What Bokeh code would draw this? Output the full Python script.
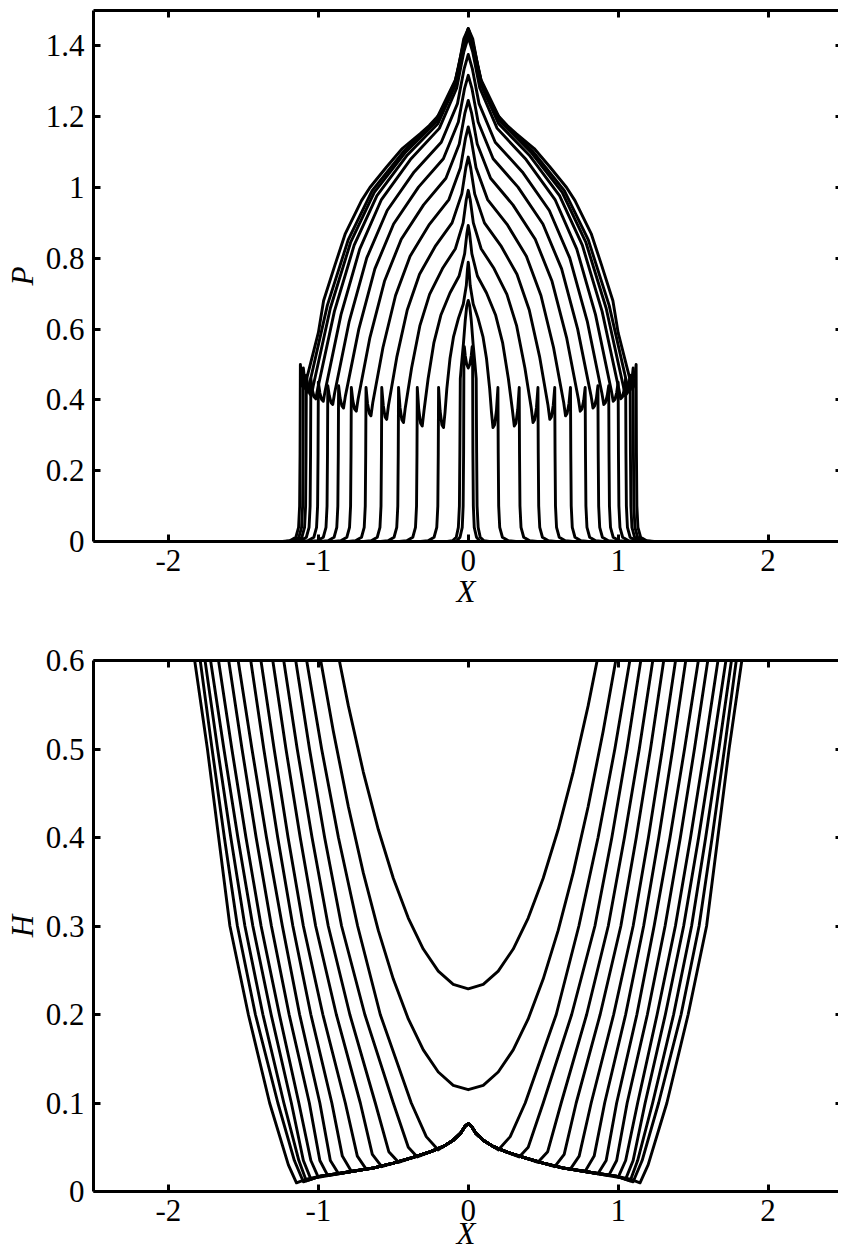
from bokeh.plotting import figure
from bokeh.layouts import column
from bokeh.models import LinearAxis, FixedTicker, CustomJSTickFormatter, Range1d
from bokeh.embed import file_html
from bokeh.resources import INLINE

# ---------------------------------------------------------------
# Pressure profiles P(X), right half (X >= 0); drawn mirrored about X = 0
# ---------------------------------------------------------------
p01_x = [0, 0.01, 0.02, 0.026, 0.029, 0.031, 0.034, 0.04, 0.055, 0.08]
p01_p = [0.49, 0.50, 0.525, 0.55, 0.53, 0.25, 0.10, 0.04, 0.012, 0]

p02_x = [0, 0.01, 0.02, 0.032, 0.045, 0.053, 0.056, 0.059, 0.066, 0.08, 0.105, 0.14]
p02_p = [0.681, 0.665, 0.625, 0.56, 0.50, 0.46, 0.25, 0.10, 0.04, 0.012, 0.002, 0]

p03_x = [0, 0.005, 0.013, 0.033, 0.065, 0.098, 0.122, 0.143, 0.155, 0.165, 0.176, 0.188, 0.198, 0.200, 0.203, 0.210, 0.228, 0.268, 0.318]
p03_p = [0.789, 0.770, 0.723, 0.671, 0.631, 0.579, 0.516, 0.431, 0.365, 0.322, 0.330, 0.370, 0.435, 0.25, 0.10, 0.04, 0.012, 0.002, 0]

p04_x = [0, 0.009, 0.024, 0.061, 0.122, 0.183, 0.229, 0.268, 0.295, 0.307, 0.318, 0.330, 0.340, 0.342, 0.345, 0.352, 0.370, 0.410, 0.460]
p04_p = [0.893, 0.870, 0.813, 0.750, 0.702, 0.639, 0.562, 0.459, 0.370, 0.326, 0.334, 0.372, 0.435, 0.25, 0.10, 0.04, 0.012, 0.002, 0]

p05_x = [0, 0.013, 0.034, 0.086, 0.172, 0.258, 0.323, 0.378, 0.420, 0.432, 0.443, 0.455, 0.465, 0.467, 0.470, 0.477, 0.495, 0.535, 0.585]
p05_p = [0.992, 0.966, 0.900, 0.827, 0.771, 0.698, 0.609, 0.490, 0.378, 0.336, 0.344, 0.378, 0.435, 0.25, 0.10, 0.04, 0.012, 0.002, 0]

p06_x = [0, 0.016, 0.043, 0.108, 0.217, 0.325, 0.407, 0.477, 0.532, 0.544, 0.555, 0.567, 0.577, 0.579, 0.582, 0.589, 0.607, 0.647, 0.697]
p06_p = [1.086, 1.056, 0.982, 0.900, 0.836, 0.755, 0.654, 0.520, 0.385, 0.345, 0.352, 0.385, 0.435, 0.25, 0.10, 0.04, 0.012, 0.002, 0]

p07_x = [0, 0.019, 0.052, 0.129, 0.259, 0.388, 0.485, 0.569, 0.637, 0.649, 0.660, 0.672, 0.682, 0.684, 0.687, 0.694, 0.712, 0.752, 0.802]
p07_p = [1.171, 1.138, 1.056, 0.966, 0.896, 0.806, 0.695, 0.548, 0.392, 0.355, 0.362, 0.390, 0.435, 0.25, 0.10, 0.04, 0.012, 0.002, 0]

p08_x = [0, 0.022, 0.060, 0.149, 0.298, 0.447, 0.559, 0.656, 0.735, 0.747, 0.758, 0.770, 0.780, 0.782, 0.785, 0.792, 0.810, 0.850, 0.900]
p08_p = [1.246, 1.211, 1.123, 1.026, 0.951, 0.854, 0.735, 0.576, 0.402, 0.368, 0.374, 0.398, 0.435, 0.25, 0.10, 0.04, 0.012, 0.002, 0]

p09_x = [0, 0.025, 0.066, 0.166, 0.332, 0.498, 0.623, 0.730, 0.820, 0.832, 0.843, 0.855, 0.865, 0.867, 0.870, 0.877, 0.895, 0.935, 0.985]
p09_p = [1.317, 1.279, 1.185, 1.081, 1.001, 0.897, 0.770, 0.600, 0.410, 0.377, 0.383, 0.405, 0.44, 0.25, 0.10, 0.04, 0.012, 0.002, 0]

p10_x = [0, 0.027, 0.072, 0.180, 0.361, 0.541, 0.677, 0.794, 0.892, 0.904, 0.915, 0.927, 0.937, 0.939, 0.942, 0.949, 0.967, 1.007, 1.057]
p10_p = [1.376, 1.336, 1.237, 1.128, 1.044, 0.935, 0.801, 0.622, 0.418, 0.387, 0.392, 0.412, 0.44, 0.25, 0.10, 0.04, 0.012, 0.002, 0]

p11_x = [0, 0.029, 0.077, 0.193, 0.386, 0.579, 0.724, 0.849, 0.955, 0.967, 0.978, 0.990, 1.000, 1.002, 1.005, 1.012, 1.030, 1.070, 1.120]
p11_p = [1.425, 1.384, 1.281, 1.167, 1.079, 0.966, 0.826, 0.641, 0.425, 0.396, 0.401, 0.420, 0.45, 0.25, 0.10, 0.04, 0.012, 0.002, 0]

p12_x = [0, 0.030, 0.081, 0.203, 0.406, 0.609, 0.761, 0.893, 1.005, 1.017, 1.028, 1.040, 1.050, 1.052, 1.055, 1.062, 1.080, 1.120, 1.170]
p12_p = [1.440, 1.398, 1.294, 1.180, 1.092, 0.977, 0.837, 0.650, 0.430, 0.403, 0.408, 0.428, 0.46, 0.25, 0.10, 0.04, 0.012, 0.002, 0]

p13_x = [0, 0.031, 0.084, 0.209, 0.418, 0.627, 0.784, 0.920, 1.035, 1.047, 1.058, 1.070, 1.080, 1.082, 1.085, 1.092, 1.110, 1.150, 1.200]
p13_p = [1.447, 1.405, 1.302, 1.188, 1.100, 0.986, 0.846, 0.659, 0.438, 0.412, 0.418, 0.440, 0.47, 0.25, 0.10, 0.04, 0.012, 0.002, 0]

p14_x = [0, 0.032, 0.085, 0.214, 0.427, 0.641, 0.801, 0.940, 1.058, 1.070, 1.080, 1.091, 1.100, 1.102, 1.105, 1.112, 1.130, 1.170, 1.220]
p14_p = [1.449, 1.407, 1.305, 1.192, 1.104, 0.991, 0.852, 0.667, 0.447, 0.422, 0.428, 0.452, 0.49, 0.25, 0.10, 0.04, 0.012, 0.002, 0]

p15_x = [0, 0.03, 0.065, 0.09, 0.12, 0.16, 0.20, 0.26, 0.32, 0.44, 0.545, 0.656, 0.712, 0.82, 0.89, 0.965, 1.0, 1.06, 1.09,
         1.100, 1.111, 1.120, 1.122, 1.125, 1.132, 1.150, 1.190, 1.240]
p15_p = [1.449, 1.42, 1.34, 1.295, 1.258, 1.225, 1.203, 1.175, 1.152, 1.11, 1.058, 1.0, 0.963, 0.87, 0.78, 0.68, 0.59, 0.49, 0.44,
         0.435, 0.46, 0.50, 0.25, 0.10, 0.04, 0.012, 0.002, 0]

pressure_curves = [
    (p01_x, p01_p), (p02_x, p02_p), (p03_x, p03_p), (p04_x, p04_p), (p05_x, p05_p),
    (p06_x, p06_p), (p07_x, p07_p), (p08_x, p08_p), (p09_x, p09_p), (p10_x, p10_p),
    (p11_x, p11_p), (p12_x, p12_p), (p13_x, p13_p), (p14_x, p14_p), (p15_x, p15_p),
]

# ---------------------------------------------------------------
# Film thickness H(X), right half (X >= 0)
# ---------------------------------------------------------------
h01_x = [0, 0.1, 0.2, 0.3, 0.4, 0.5, 0.6, 0.7, 0.8, 0.9, 1.0]
h01_h = [0.229, 0.234, 0.249, 0.274, 0.309, 0.354, 0.409, 0.474, 0.549, 0.634, 0.729]

h02_x = [0, 0.1, 0.2, 0.3, 0.4, 0.5, 0.6, 0.7, 0.8, 0.9, 1.0, 1.1]
h02_h = [0.115, 0.12, 0.135, 0.16, 0.195, 0.24, 0.295, 0.36, 0.435, 0.52, 0.615, 0.72]

# common dimpled film inside the contact
film_x = [0, 0.02, 0.05, 0.10, 0.165, 0.25, 0.379, 0.50, 0.629, 0.80, 0.986, 1.08]
film_h = [0.0768, 0.074, 0.066, 0.058, 0.051, 0.045, 0.038, 0.032, 0.0267, 0.022, 0.0173, 0.014]

# outlet walls, from the contact edge upward
wall_h = [None, None, 0.1, 0.2, 0.3, 0.4, 0.5, 0.6, 0.7]
h03_x = [0.200, 0.28, 0.38, 0.587, 0.738, 0.866, 0.978, 1.078, 1.170]
h04_x = [0.340, 0.40, 0.50, 0.690, 0.845, 0.958, 1.059, 1.151, 1.236]
h05_x = [0.465, 0.53, 0.62, 0.790, 0.934, 1.042, 1.141, 1.231, 1.315]
h06_x = [0.577, 0.64, 0.72, 0.880, 1.018, 1.121, 1.216, 1.304, 1.386]
h07_x = [0.680, 0.74, 0.82, 0.970, 1.100, 1.202, 1.295, 1.383, 1.465]
h08_x = [0.780, 0.84, 0.91, 1.050, 1.170, 1.271, 1.364, 1.451, 1.533]
h09_x = [0.865, 0.92, 0.99, 1.125, 1.240, 1.346, 1.443, 1.535, 1.621]
h10_x = [0.937, 0.99, 1.06, 1.195, 1.313, 1.415, 1.509, 1.598, 1.683]
h11_x = [1.000, 1.05, 1.13, 1.260, 1.382, 1.483, 1.577, 1.666, 1.750]
h12_x = [1.050, 1.10, 1.18, 1.315, 1.437, 1.537, 1.630, 1.719, 1.803]
h13_x = [1.080, 1.13, 1.23, 1.370, 1.490, 1.584, 1.672, 1.756, 1.836]
h14_x = [1.100, 1.16, 1.27, 1.420, 1.540, 1.627, 1.709, 1.788, 1.863]
h15_x = [1.146, 1.20, 1.325, 1.467, 1.590, 1.665, 1.740, 1.825, 1.900]
edge_h = [0.047, 0.039, 0.033, 0.028, 0.025, 0.023, 0.020, 0.018, 0.016, 0.014, 0.012, 0.011, 0.0098]
rise_h = [0.062, 0.050, 0.045, 0.042, 0.040, 0.040, 0.035, 0.035, 0.035, 0.035, 0.035, 0.035, 0.030]

walls = [h03_x, h04_x, h05_x, h06_x, h07_x, h08_x, h09_x, h10_x, h11_x, h12_x, h13_x, h14_x, h15_x]


def mirrored(xs, ys):
    """Full symmetric profile from its right half (xs[0] == 0)."""
    left_x = [-v for v in reversed(xs[1:])]
    left_y = list(reversed(ys[1:]))
    return left_x + list(xs), left_y + list(ys)


FONT = "Liberation Serif"
FS = "31px"
LW = 2.9


def style_axis(ax, ticks, labels=True, line=True, tick_in=7):
    ax.ticker = FixedTicker(ticks=ticks)
    ax.minor_tick_in = 0
    ax.minor_tick_out = 0
    ax.major_tick_in = tick_in
    ax.major_tick_out = 0
    ax.major_tick_line_width = 3
    ax.major_tick_line_color = "black"
    ax.axis_line_width = 3
    ax.axis_line_color = "black" if line else None
    ax.major_label_text_font = FONT
    ax.major_label_text_font_size = FS
    ax.major_label_text_color = "black"
    ax.axis_label_text_font = FONT
    ax.axis_label_text_font_size = FS
    ax.axis_label_text_font_style = "italic"
    ax.axis_label_text_color = "black"
    if labels:
        ax.formatter = CustomJSTickFormatter(code="return String(parseFloat(tick.toFixed(2)));")
    else:
        ax.formatter = CustomJSTickFormatter(code="return '';")
        ax.major_label_standoff = 0


def make_panel(y_end, yticks, ylabel, border_top, x_standoff, x_label_standoff):
    f = figure(frame_width=745, frame_height=531,
               x_range=Range1d(-2.5, 2.47), y_range=Range1d(0, y_end),
               output_backend="svg", toolbar_location=None,
               min_border_left=93, min_border_right=0,
               min_border_top=border_top, min_border_bottom=0)
    f.outline_line_color = None
    f.xgrid.visible = False
    f.ygrid.visible = False
    f.background_fill_color = "white"
    f.border_fill_color = "white"

    xticks = [-2, -1, 0, 1, 2]
    style_axis(f.xaxis[0], xticks)
    f.xaxis[0].axis_label = "X"
    f.xaxis[0].major_label_standoff = x_standoff
    f.xaxis[0].axis_label_standoff = x_label_standoff

    style_axis(f.yaxis[0], yticks)
    f.yaxis[0].axis_label = ylabel
    f.yaxis[0].major_label_standoff = 9
    f.yaxis[0].axis_label_standoff = 3

    top = LinearAxis()
    style_axis(top, xticks, labels=False)
    f.add_layout(top, "above")

    right = LinearAxis()
    style_axis(right, yticks, labels=False, line=False, tick_in=3)
    f.add_layout(right, "right")
    return f


# ---- pressure panel ----
p1 = make_panel(1.5, [0, 0.2, 0.4, 0.6, 0.8, 1.0, 1.2, 1.4], "P", 10, 8, 0)
for xs, ps in pressure_curves:
    fx, fp = mirrored(xs, ps)
    p1.line(fx, fp, line_color="black", line_width=LW, line_join="round")

# ---- film thickness panel ----
p2 = make_panel(0.6, [0, 0.1, 0.2, 0.3, 0.4, 0.5, 0.6], "H", 49, 8, -8)
for xs, hs in [(h01_x, h01_h), (h02_x, h02_h)]:
    fx, fh = mirrored(xs, hs)
    p2.line(fx, fh, line_color="black", line_width=LW, line_join="round")

for wx, e_h, r_h in zip(walls, edge_h, rise_h):
    inner_x = [v for v in film_x if v < wx[0] - 0.02]
    inner_h = film_h[:len(inner_x)]
    hs = inner_h + [e_h, r_h] + wall_h[2:]
    xs = inner_x + wx
    fx, fh = mirrored(xs, hs)
    p2.line(fx, fh, line_color="black", line_width=LW, line_join="round")

page = column(p1, p2)
open("out.html", "w").write(file_html(page, INLINE))
